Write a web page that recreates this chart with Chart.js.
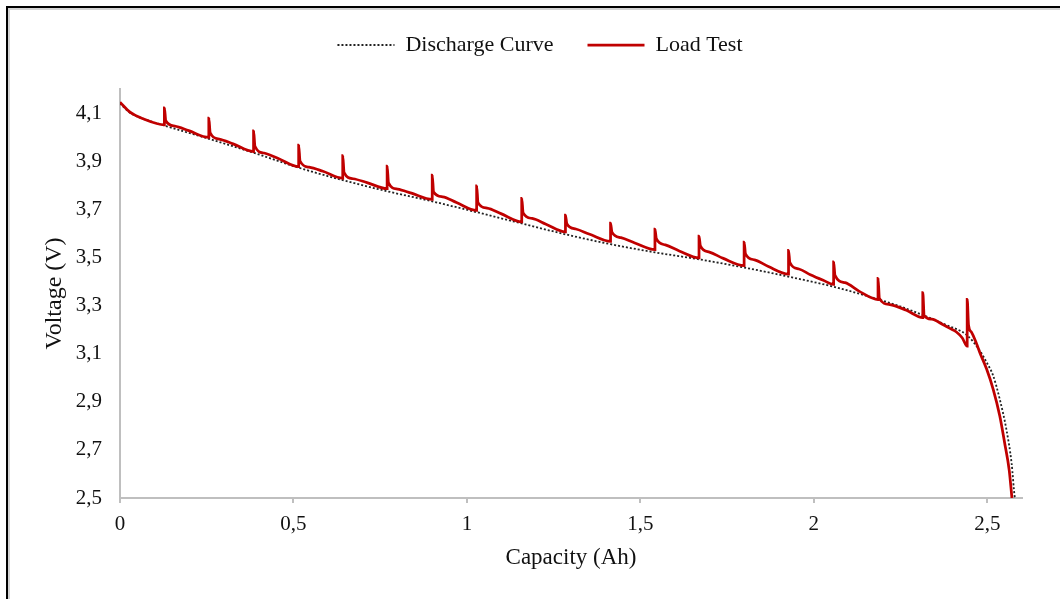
<!DOCTYPE html>
<html>
<head>
<meta charset="utf-8">
<script src="https://cdn.jsdelivr.net/npm/chart.js@4.4.1/dist/chart.umd.min.js"></script>
<style>
html,body{margin:0;padding:0;background:#fff;}
#wrap{position:relative;width:1060px;height:599px;}
canvas{display:block;}
</style>
</head>
<body>
<div id="wrap"><canvas id="c" width="1060" height="599"></canvas></div>
<script>
// ---- data ----
const seriesNames = ['Discharge Curve', 'Load Test'];
const xTickValues = [0, 0.5, 1, 1.5, 2, 2.5];
const yTickValues = [2.5, 2.7, 2.9, 3.1, 3.3, 3.5, 3.7, 3.9, 4.1];
const xAxisTitle = 'Capacity (Ah)';
const yAxisTitle = 'Voltage (V)';

const dischargeCapacity = [0, 0.03, 0.07, 0.128, 0.256, 0.385, 0.515, 0.642, 0.770, 0.900, 1.028, 1.158, 1.284, 1.414, 1.542, 1.669, 1.799, 1.927, 2.057, 2.185, 2.250, 2.314, 2.380, 2.442, 2.478, 2.498, 2.517, 2.536, 2.555, 2.570, 2.579, 2.580];
const dischargeVoltage  = [4.140, 4.100, 4.075, 4.048, 3.993, 3.935, 3.873, 3.821, 3.775, 3.733, 3.688, 3.641, 3.596, 3.555, 3.521, 3.492, 3.458, 3.420, 3.378, 3.326, 3.296, 3.260, 3.220, 3.176, 3.113, 3.064, 3.008, 2.910, 2.785, 2.645, 2.505, 2.500];

const loadCapacity = [
  0, 0.029, 0.067, 0.128,
  0.128, 0.132, 0.158, 0.198, 0.256,
  0.256, 0.260, 0.286, 0.326, 0.385,
  0.385, 0.389, 0.415, 0.455, 0.515,
  0.515, 0.519, 0.545, 0.585, 0.642,
  0.642, 0.646, 0.672, 0.712, 0.770,
  0.770, 0.774, 0.800, 0.840, 0.900,
  0.900, 0.904, 0.930, 0.970, 1.028,
  1.028, 1.032, 1.058, 1.098, 1.158,
  1.158, 1.162, 1.188, 1.228, 1.284,
  1.284, 1.288, 1.314, 1.354, 1.414,
  1.414, 1.418, 1.444, 1.484, 1.542,
  1.542, 1.546, 1.572, 1.612, 1.669,
  1.669, 1.673, 1.699, 1.739, 1.799,
  1.799, 1.803, 1.829, 1.869, 1.927,
  1.927, 1.931, 1.957, 1.990, 2.027, 2.057,
  2.057, 2.061, 2.090, 2.130, 2.185,
  2.185, 2.189, 2.219, 2.267, 2.314,
  2.314, 2.318, 2.340, 2.373, 2.395, 2.411, 2.428, 2.442,
  2.442, 2.446, 2.454, 2.469, 2.478, 2.498, 2.517, 2.536, 2.550, 2.563, 2.571
];
const loadVoltage = [
  4.145, 4.104, 4.076, 4.051,
  4.122, 4.068, 4.046, 4.027, 3.999,
  4.079, 4.018, 3.992, 3.972, 3.940,
  4.026, 3.962, 3.934, 3.912, 3.877,
  3.967, 3.900, 3.875, 3.858, 3.829,
  3.923, 3.852, 3.827, 3.811, 3.786,
  3.879, 3.810, 3.784, 3.767, 3.741,
  3.842, 3.772, 3.752, 3.728, 3.695,
  3.797, 3.728, 3.705, 3.682, 3.648,
  3.745, 3.685, 3.662, 3.638, 3.606,
  3.676, 3.640, 3.618, 3.596, 3.567,
  3.642, 3.605, 3.582, 3.560, 3.532,
  3.618, 3.578, 3.552, 3.527, 3.498,
  3.588, 3.548, 3.522, 3.496, 3.466,
  3.564, 3.515, 3.490, 3.462, 3.431,
  3.529, 3.478, 3.452, 3.428, 3.405, 3.388,
  3.481, 3.425, 3.395, 3.360, 3.325,
  3.413, 3.330, 3.304, 3.280, 3.250,
  3.354, 3.259, 3.243, 3.220, 3.203, 3.190, 3.165, 3.131,
  3.326, 3.217, 3.190, 3.141, 3.106, 3.036, 2.952, 2.841, 2.729, 2.617, 2.500
];

// ---- chart ----
const fmt = v => (Math.round(v * 10) / 10).toString().replace('.', ',');
const toXY = (xs, ys) => xs.map((x, i) => ({x: x, y: ys[i]}));

const framePlugin = {
  id: 'frame',
  beforeLayout(chart) {
    const lg = chart.legend;
    if (lg && !lg._fixedHeight) {
      const origFit = lg.fit.bind(lg);
      lg.fit = function () { origFit(); this.height = 89; };
      lg._fixedHeight = true;
    }
  },
  afterDraw(chart) {
    const ctx = chart.ctx;
    ctx.save();
    ctx.fillStyle = '#d4d4d4';
    ctx.fillRect(8, 8, chart.width - 8, 2);
    ctx.fillRect(8, 8, 2, chart.height - 8);
    ctx.fillStyle = '#000';
    ctx.fillRect(6, 6, chart.width - 6, 2);
    ctx.fillRect(6, 6, 2, chart.height - 6);
    ctx.restore();
  }
};

Chart.defaults.font.family = '"Liberation Serif", "Times New Roman", serif';
Chart.defaults.color = '#111';

new Chart(document.getElementById('c'), {
  type: 'line',
  data: {
    datasets: [
      {
        label: seriesNames[0],
        data: toXY(dischargeCapacity, dischargeVoltage),
        borderColor: '#222',
        backgroundColor: 'rgba(0,0,0,0)',
        borderWidth: 1.8,
        borderDash: [2, 2],
        pointRadius: 0,
        cubicInterpolationMode: 'monotone',
        fill: false,
        order: 2
      },
      {
        label: seriesNames[1],
        data: toXY(loadCapacity, loadVoltage),
        borderColor: '#C00000',
        backgroundColor: 'rgba(0,0,0,0)',
        borderWidth: 2.75,
        pointRadius: 0,
        cubicInterpolationMode: 'monotone',
        fill: false,
        order: 1
      }
    ]
  },
  options: {
    responsive: false,
    animation: false,
    devicePixelRatio: 1,
    layout: {padding: {left: 20, right: 0, top: 0, bottom: 0}},
    plugins: {
      tooltip: {enabled: false},
      legend: {
        display: true,
        position: 'top',
        align: 'center',
        labels: {
          usePointStyle: false,
          boxWidth: 57,
          boxHeight: 0,
          padding: 34,
          color: '#111',
          font: {size: 22},
          sort: (a, b) => a.datasetIndex - b.datasetIndex
        }
      }
    },
    scales: {
      x: {
        type: 'linear',
        min: 0,
        max: 2.6,
        afterBuildTicks: s => { s.ticks = xTickValues.map(v => ({value: v})); },
        afterFit: s => { s.height = 101; s.paddingRight = 38; },
        ticks: {
          callback: v => fmt(v),
          font: {size: 21},
          color: '#111',
          padding: 9,
          maxRotation: 0,
          autoSkip: false
        },
        grid: {
          display: true,
          drawOnChartArea: false,
          drawTicks: true,
          tickLength: 5,
          color: '#bfbfbf',
          lineWidth: 2
        },
        border: {display: true, color: '#bfbfbf', width: 2},
        title: {
          display: true,
          text: xAxisTitle,
          font: {size: 23},
          color: '#111',
          padding: {top: 0, bottom: 27}
        }
      },
      y: {
        type: 'linear',
        min: 2.5,
        max: 4.2,
        afterBuildTicks: s => { s.ticks = yTickValues.map(v => ({value: v})); },
        afterFit: s => { s.width = 100; },
        ticks: {
          callback: v => fmt(v),
          font: {size: 21},
          color: '#111',
          padding: 18,
          autoSkip: false
        },
        grid: {display: false, drawTicks: false},
        border: {display: true, color: '#bfbfbf', width: 2},
        title: {
          display: true,
          text: yAxisTitle,
          font: {size: 24},
          color: '#111',
          padding: {top: 20, bottom: 0}
        }
      }
    }
  },
  plugins: [framePlugin]
});
</script>
</body>
</html>
